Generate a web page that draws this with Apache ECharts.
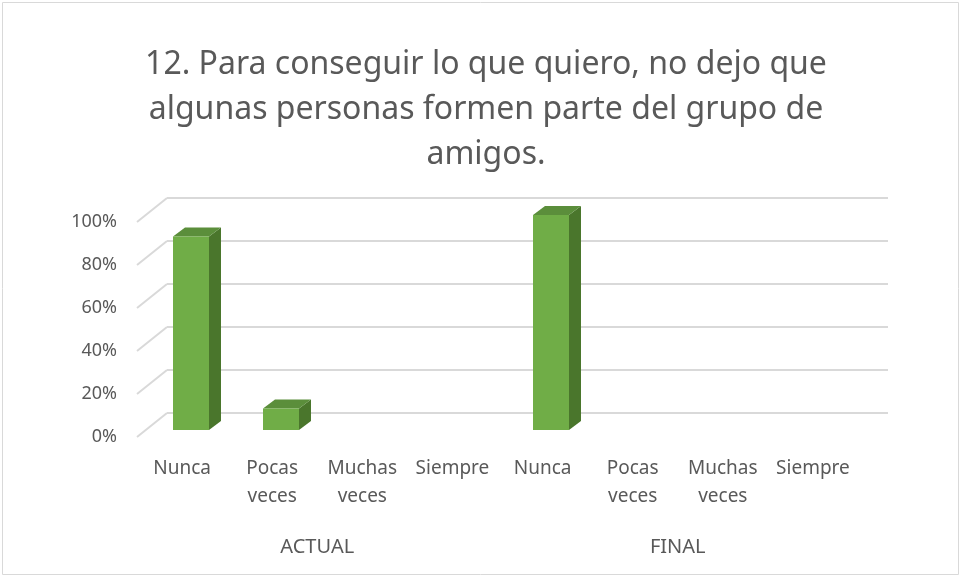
<!DOCTYPE html>
<html>
<head>
<meta charset="utf-8">
<script src="https://cdn.jsdelivr.net/npm/echarts@6/dist/echarts.min.js"></script>
<style>
  html, body { margin: 0; padding: 0; background: #fff; }
  #chart { width: 962px; height: 578px; }
</style>
</head>
<body>
<div id="chart"></div>
<script>
// datos
const categories = ['Nunca', 'Pocas\nveces', 'Muchas\nveces', 'Siempre',
                    'Nunca', 'Pocas\nveces', 'Muchas\nveces', 'Siempre']
const groups = ['ACTUAL', 'FINAL']
const actualValues = [0.9, 0.1, 0, 0]
const finalValues = [1.0, 0, 0, 0]
const yTicks = [0, 0.2, 0.4, 0.6, 0.8, 1.0]

const barValues = actualValues.concat(finalValues)
const font = 'Noto Sans'
const txt = '#595959'
const grid = '#d9d9d9'

// profundidad del suelo / paredes
const depthX = 30, depthY = -24
// profundidad de cada barra
const barDX = 12, barDY = -9

let chart = echarts.init(document.getElementById('chart'))

const option = {
  animation: false,
  textStyle: { fontFamily: font },
  title: {
    text: '12. Para conseguir lo que quiero, no dejo que\nalgunas personas formen parte del grupo de\namigos.',
    left: 481,
    top: 37,
    textAlign: 'center',
    textStyle: { fontSize: 32, fontWeight: 'normal', color: txt, lineHeight: 45, fontFamily: font }
  },
  graphic: [{
    type: 'rect',
    shape: { x: 2.5, y: 2.5, width: 956, height: 572 },
    style: { fill: 'none', stroke: '#d9d9d9', lineWidth: 1 },
    silent: true
  }],
  grid: [
    // plano frontal (etiquetas)
    { left: 137, right: 104, top: 222, bottom: 141 },
    // pared del fondo
    { left: 167, right: 74, top: 198, bottom: 165 },
    // plano de las barras
    { left: 146, right: 96, top: 215, bottom: 148 }
  ],
  xAxis: [
    {
      gridIndex: 0, type: 'category', data: categories,
      axisLine: { show: false }, axisTick: { show: false },
      axisLabel: { color: txt, fontSize: 19, lineHeight: 28, margin: 18, interval: 0 }
    },
    {
      gridIndex: 0, type: 'category', data: groups, position: 'bottom',
      axisLine: { show: false }, axisTick: { show: false },
      axisLabel: { color: txt, fontSize: 20, lineHeight: 28, margin: 96 }
    },
    { gridIndex: 1, type: 'category', data: categories, show: false },
    { gridIndex: 2, type: 'category', data: categories, show: false }
  ],
  yAxis: [
    {
      gridIndex: 0, type: 'value', min: 0, max: 1, interval: 0.2,
      axisLine: { show: false }, axisTick: { show: false }, splitLine: { show: false },
      axisLabel: { color: txt, fontSize: 18, margin: 20, formatter: v => Math.round(v * 100) + '%' }
    },
    {
      gridIndex: 1, type: 'value', min: 0, max: 1, interval: 0.2,
      axisLine: { show: false }, axisTick: { show: false }, axisLabel: { show: false },
      splitLine: { lineStyle: { color: grid, width: 2 } }
    },
    { gridIndex: 2, type: 'value', min: 0, max: 1, show: false }
  ],
  series: [
    {
      // líneas diagonales del suelo/pared lateral
      type: 'custom',
      xAxisIndex: 0, yAxisIndex: 0,
      data: yTicks.map(v => [0, v]),
      silent: true,
      renderItem: function (params, api) {
        const rect = params.coordSys
        const y = api.coord([0, api.value(1)])[1]
        return {
          type: 'line',
          shape: { x1: rect.x, y1: y, x2: rect.x + depthX, y2: y + depthY },
          style: { stroke: grid, lineWidth: 2 }
        }
      }
    },
    {
      // barras 3D
      type: 'custom',
      xAxisIndex: 3, yAxisIndex: 2,
      data: barValues.map((v, i) => [i, v]),
      z: 5,
      renderItem: function (params, api) {
        const v = api.value(1)
        if (!v) return null
        const base = api.coord([api.value(0), 0])
        const top = api.coord([api.value(0), v])
        const w = api.size([1, 0])[0] * 0.4
        const x0 = base[0] - w / 2, x1 = base[0] + w / 2
        const yb = base[1], yt = top[1]
        return {
          type: 'group',
          children: [
            {
              type: 'polygon',
              shape: { points: [[x1, yb], [x1 + barDX, yb + barDY], [x1 + barDX, yt + barDY], [x1, yt]] },
              style: { fill: '#4a762c' }
            },
            {
              type: 'polygon',
              shape: { points: [[x0, yt], [x1, yt], [x1 + barDX, yt + barDY], [x0 + barDX, yt + barDY]] },
              style: { fill: '#5b8e3b' }
            },
            {
              type: 'rect',
              shape: { x: x0, y: yt, width: w, height: yb - yt },
              style: { fill: '#70ad47' }
            }
          ]
        }
      }
    }
  ]
}

chart.setOption(option)
</script>
</body>
</html>
